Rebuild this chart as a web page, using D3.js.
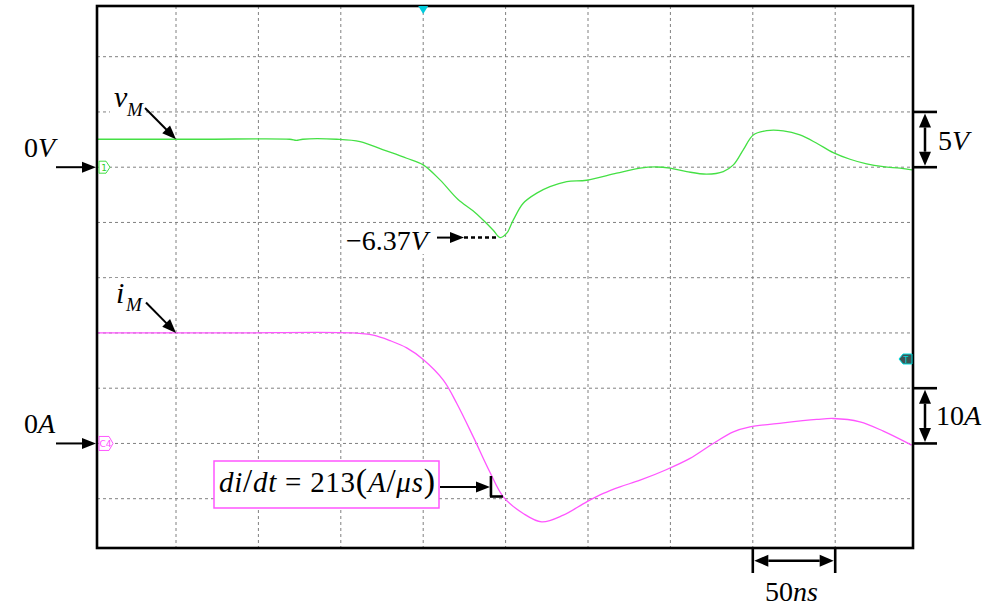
<!DOCTYPE html>
<html><head><meta charset="utf-8">
<script src="https://cdn.jsdelivr.net/npm/d3@7"></script>
<style>html,body{margin:0;padding:0;background:#fff;}svg{display:block;}</style>
</head><body>
<svg id="chart" width="997" height="607"></svg>
<script>
// ---- data (time in ns, voltage in V, current in A) ----
const vTime = [2,65,119,123,127,147.5,161.7,175.8,190,200,210.2,221,230.2,236.5,242.5,246.6,250.7,254.7,260.7,268.9,276.9,287.1,299.2,317.4,331.6,341.7,349.8,359.9,372,382.1,388.2,394.2,400.3,408.4,418.5,428.6,438.8,448.8,459,469.1,479.2,489.4,496.6];
const vVals = [2.53,2.53,2.53,2.42,2.53,2.53,2.32,1.57,0.81,0.21,-1.15,-2.9,-3.95,-4.8,-5.7,-6.37,-5.97,-4.77,-3.26,-2.35,-1.76,-1.30,-1.18,-0.54,-0.08,0.02,-0.09,-0.40,-0.63,-0.40,0.21,1.57,2.92,3.31,3.29,2.92,2.17,1.32,0.72,0.30,0.05,-0.09,-0.24];
const iTime = [2,80,157.4,169.7,180,190,200,212.2,220.4,230.4,240.5,248.6,260.7,271.9,285,299.2,309.3,319.4,331.6,347.8,361.9,376,388.2,398.3,418.5,438.8,448.8,465,479.2,496.4];
const iVals = [20,20,20,19.6,18.6,17.3,15.2,11.46,7.24,1.19,-5.2,-9.66,-12.67,-14.19,-12.98,-10.57,-9.05,-7.86,-6.64,-4.71,-2.71,0,2.10,3.0,3.73,4.34,4.52,3.91,2.23,-0.31];
const timeGrid = [50,100,150,200,250,300,350,400,450];
const voltGrid = [10,5,0,-5,-10,-15,-20,-25,-30];
const vMin = -6.37;
const vMinTime = 246.6;
const didtTime = 240.5;
const didtCurrent = -5.2;

// ---- layout ----
const FONT = "'Liberation Serif','Times New Roman',Times,serif";
const W = 997, H = 607;
const frame = {l: 97, r: 913, t: 6, b: 548};
const x = d3.scaleLinear().domain([0, 500]).range([93.6, 917.6]);
const yV = d3.scaleLinear().domain([15, -35]).range([1.45, 553.95]);
const yI = d3.scaleLinear().domain([80, -20]).range([1.45, 553.95]);

const svg = d3.select("#chart");
svg.append("rect").attr("width", W).attr("height", H).attr("fill", "#fff");
svg.append("defs").append("clipPath").attr("id", "clip")
  .append("rect").attr("x", frame.l).attr("y", frame.t).attr("width", frame.r - frame.l).attr("height", frame.b - frame.t);

const plot = svg.append("g").attr("clip-path", "url(#clip)");
const gridCol = "#808080";
plot.selectAll("line.vg").data(timeGrid).join("line").attr("class", "vg")
  .attr("x1", d => x(d)).attr("x2", d => x(d)).attr("y1", frame.t).attr("y2", frame.b)
  .attr("stroke", gridCol).attr("stroke-width", 1).attr("stroke-dasharray", "3,3");
plot.selectAll("line.hg").data(voltGrid).join("line").attr("class", "hg")
  .attr("y1", d => yV(d)).attr("y2", d => yV(d)).attr("x1", frame.l).attr("x2", frame.r)
  .attr("stroke", gridCol).attr("stroke-width", 1).attr("stroke-dasharray", "3,3");

// white label backgrounds
const bg = svg.append("g");
bg.append("rect").attr("x", 110).attr("y", 90).attr("width", 36).attr("height", 28).attr("fill", "#fff");
bg.append("rect").attr("x", 110).attr("y", 278).attr("width", 36).attr("height", 35).attr("fill", "#fff");
bg.append("rect").attr("x", 342).attr("y", 224).attr("width", 92).attr("height", 30).attr("fill", "#fff");

const greenCol = "#44e044", pinkCol = "#ff55ff";
const curve = d3.curveCatmullRom.alpha(0.5);
const lineV = d3.line().x((d, i) => x(vTime[i])).y(d => yV(d)).curve(curve);
const lineI = d3.line().x((d, i) => x(iTime[i])).y(d => yI(d)).curve(curve);
plot.append("path").attr("d", lineV(vVals)).attr("fill", "none").attr("stroke", greenCol).attr("stroke-width", 1.3);
plot.append("path").attr("d", lineI(iVals)).attr("fill", "none").attr("stroke", pinkCol).attr("stroke-width", 1.3);

// frame
svg.append("rect").attr("x", frame.l).attr("y", frame.t).attr("width", frame.r - frame.l).attr("height", frame.b - frame.t)
  .attr("fill", "none").attr("stroke", "#000").attr("stroke-width", 2.6);

// markers
const y0V = yV(0), y0A = yI(0);
svg.append("path").attr("d", `M99,${y0V-6}L106,${y0V-6}L110,${y0V}L106,${y0V+6}L99,${y0V+6}Z`)
  .attr("fill", "#fff").attr("stroke", greenCol).attr("stroke-width", 1);
svg.append("text").attr("x", 104).attr("y", y0V + 3.5).attr("text-anchor", "middle").attr("font-family", "DejaVu Sans")
  .attr("font-size", 9).attr("fill", "#2fcf2f").text("1");
svg.append("path").attr("d", `M99,${y0A-7}L109,${y0A-7}L113,${y0A}L109,${y0A+7}L99,${y0A+7}Z`)
  .attr("fill", "#fff").attr("stroke", pinkCol).attr("stroke-width", 1);
svg.append("text").attr("x", 105.5).attr("y", y0A + 3.5).attr("text-anchor", "middle").attr("font-family", "DejaVu Sans")
  .attr("font-size", 9).attr("fill", pinkCol).text("C4");
svg.append("path").attr("d", `M${x(200)-5},${frame.t}L${x(200)+5},${frame.t}L${x(200)},${frame.t+8}Z`).attr("fill", "#00ccdd");
svg.append("path").attr("d", `M912,354L903,354L899,359L903,364L912,364Z`).attr("fill", "#3d5555").attr("stroke", "#00dddd").attr("stroke-width", 1);
svg.append("text").attr("x", 906).attr("y", 362.5).attr("text-anchor", "middle").attr("font-family", "DejaVu Sans")
  .attr("font-size", 8).attr("fill", "#00dddd").text("T");

// arrow helpers
const ann = svg.append("g");
function head(xt, yt, ang, L, Wd) {
  const bx = xt - L * Math.cos(ang), by = yt - L * Math.sin(ang);
  const px = -Math.sin(ang) * Wd / 2, py = Math.cos(ang) * Wd / 2;
  ann.append("path").attr("d", `M${xt},${yt}L${bx + px},${by + py}L${bx - px},${by - py}Z`).attr("fill", "#000");
  return [bx, by];
}
function arrow(x1, y1, x2, y2, L = 14, Wd = 11, sw = 2) {
  const ang = Math.atan2(y2 - y1, x2 - x1);
  const [bx, by] = head(x2, y2, ang, L, Wd);
  ann.append("line").attr("x1", x1).attr("y1", y1).attr("x2", bx + Math.cos(ang) * 2).attr("y2", by + Math.sin(ang) * 2)
    .attr("stroke", "#000").attr("stroke-width", sw);
}
function dblArrow(x1, y1, x2, y2, L = 14, Wd = 12, sw = 2.5) {
  const ang = Math.atan2(y2 - y1, x2 - x1);
  const [b2x, b2y] = head(x2, y2, ang, L, Wd);
  const [b1x, b1y] = head(x1, y1, ang + Math.PI, L, Wd);
  ann.append("line").attr("x1", b1x).attr("y1", b1y).attr("x2", b2x).attr("y2", b2y).attr("stroke", "#000").attr("stroke-width", sw);
}
function seg(x1, y1, x2, y2, sw = 2.6) {
  ann.append("line").attr("x1", x1).attr("y1", y1).attr("x2", x2).attr("y2", y2).attr("stroke", "#000").attr("stroke-width", sw);
}
function label(xp, yp, parts, size = 28) {
  const t = ann.append("text").attr("x", xp).attr("y", yp).attr("font-size", size).attr("font-family", FONT).attr("fill", "#000");
  parts.forEach(p => {
    const s = t.append("tspan").attr("font-style", p[1] ? "italic" : "normal").text(p[0]);
    if (p[2]) s.attr("font-size", p[2]);
  });
  return t;
}

// 0V / 0A
label(24, 156.5, [["0", 0], ["V", 1]]);
arrow(56, y0V, frame.l - 1, y0V);
label(24, 433, [["0", 0], ["A", 1]]);
arrow(56, y0A, frame.l - 1, y0A);

// v_M, i_M
label(114, 106.5, [["v", 1]], 30);
label(127, 116, [["M", 1]], 19);
arrow(145, 108, x(50), yV(2.53));
label(116, 303, [["i", 1]], 30);
label(126, 311, [["M", 1]], 19);
arrow(146, 302.5, x(50), yI(20));

// -6.37V
label(346, 249.5, [["\u2212", 0], ["6.37", 0], ["V", 1]]);
arrow(437, yV(vMin), 464, yV(vMin), 14, 11);
ann.append("line").attr("x1", 464).attr("x2", x(vMinTime) - 3).attr("y1", yV(vMin)).attr("y2", yV(vMin))
  .attr("stroke", "#000").attr("stroke-width", 2.5).attr("stroke-dasharray", "4,3");

// di/dt box
ann.append("rect").attr("x", 214).attr("y", 461).attr("width", 225).attr("height", 47)
  .attr("fill", "#fff").attr("stroke", pinkCol).attr("stroke-width", 1.5);
const dt = label(219, 492, [["di", 1], ["/", 0, 33], ["dt", 1], [" = 213", 0], ["(", 0, 34], ["A", 1], ["/", 0, 33], ["\u03bcs", 1], [")", 0, 34]], 29);
dt.attr("textLength", 216).attr("lengthAdjust", "spacing");
arrow(440, 487, 490, 487, 14, 11);
const cx = x(didtTime), cy = yI(didtCurrent);
seg(cx + 1, 476, cx + 1, 496.5);
seg(cx, 496.5, cx + 13, 496.5);

// 5V scale bar
seg(frame.r, yV(5), 937, yV(5));
seg(frame.r, yV(0), 937, yV(0));
dblArrow(925, yV(5) + 1.5, 925, yV(0) - 1.5);
label(938, 150, [["5", 0], ["V", 1]]);

// 10A scale bar
seg(frame.r, yI(10), 937, yI(10));
seg(frame.r, yI(0), 937, yI(0));
dblArrow(925, yI(10) + 1.5, 925, yI(0) - 1.5);
label(936, 425, [["10", 0], ["A", 1]]);

// 50ns bar
seg(x(400), frame.b, x(400), 573);
seg(x(450), frame.b, x(450), 573);
dblArrow(x(400) + 1.5, 560.7, x(450) - 1.5, 560.7);
label(765, 601, [["50", 0], ["ns", 1]]);
</script>
</body></html>
